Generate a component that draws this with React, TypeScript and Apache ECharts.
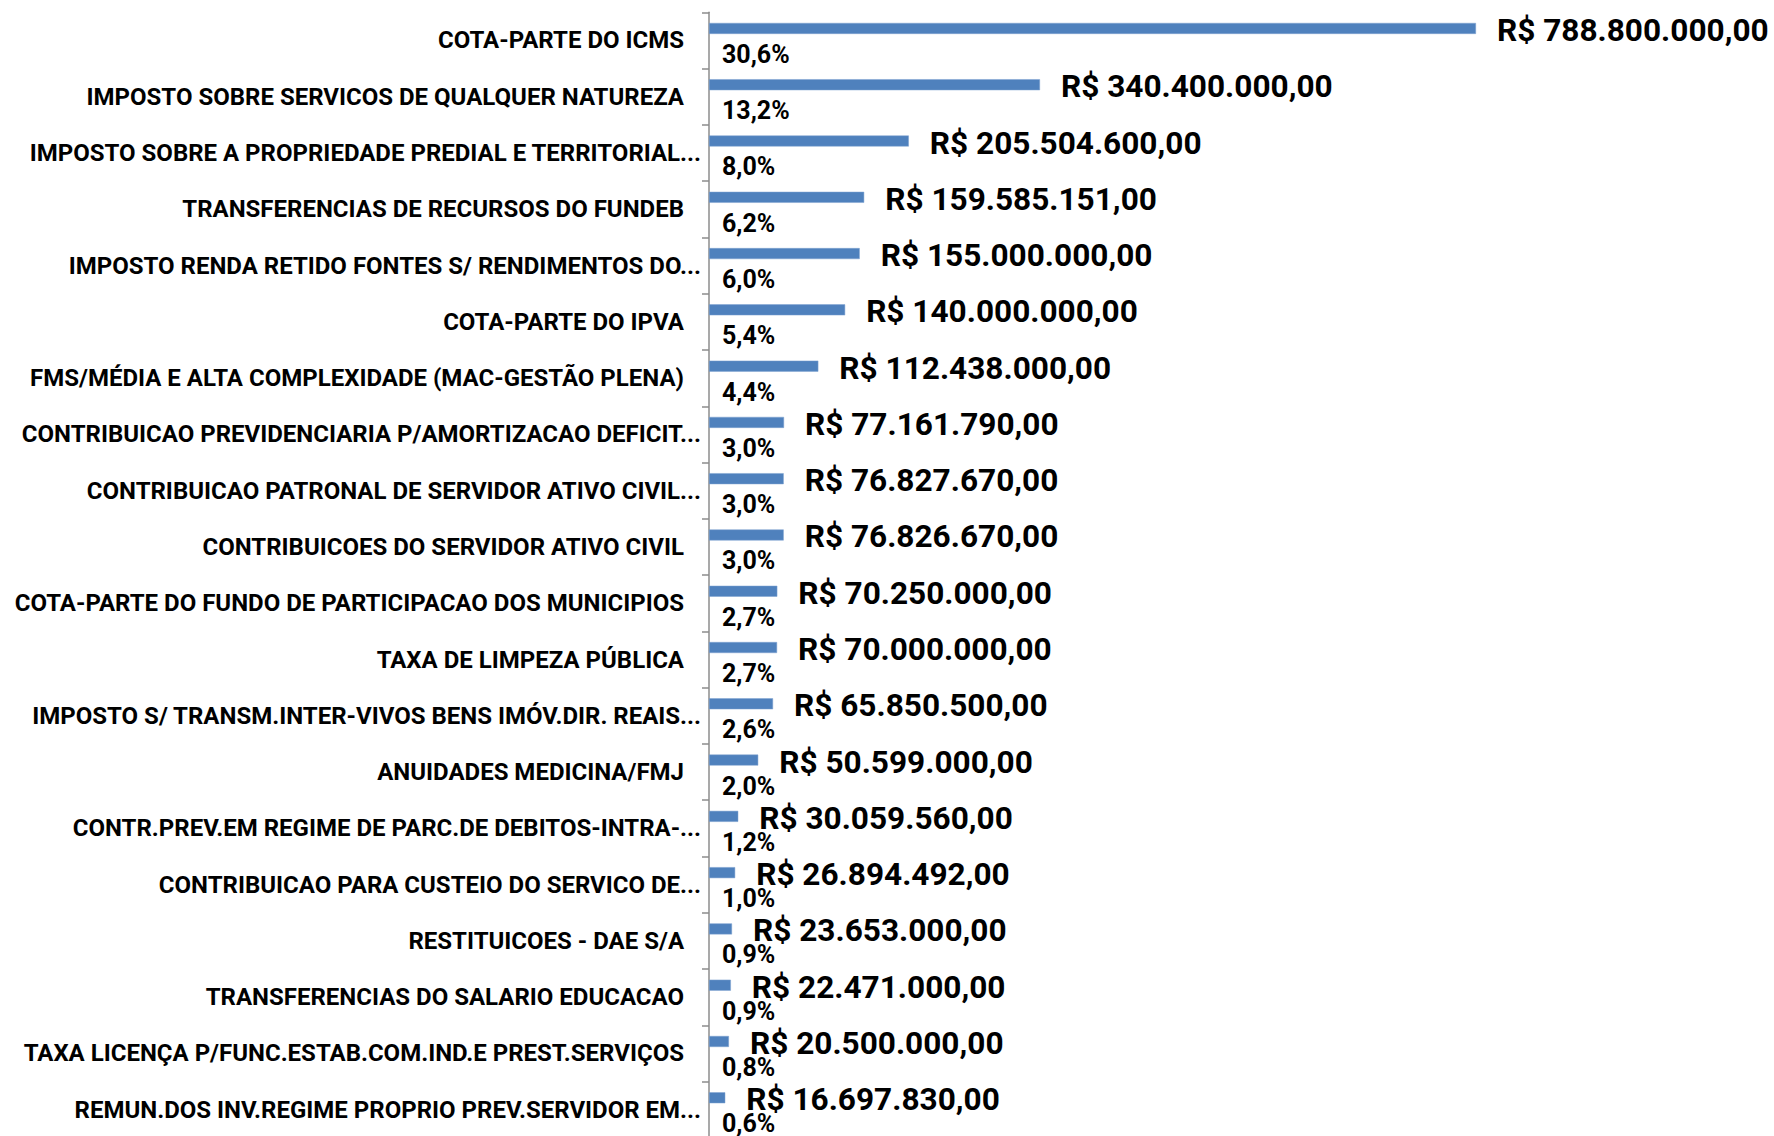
import React, { useEffect, useRef } from "react";
import * as echarts from "echarts";

const categories: string[] = [
  "COTA-PARTE DO ICMS",
  "IMPOSTO SOBRE SERVICOS DE QUALQUER NATUREZA",
  "IMPOSTO SOBRE A PROPRIEDADE PREDIAL E TERRITORIAL...",
  "TRANSFERENCIAS DE RECURSOS DO FUNDEB",
  "IMPOSTO RENDA RETIDO FONTES S/ RENDIMENTOS DO...",
  "COTA-PARTE DO IPVA",
  "FMS/MÉDIA E ALTA COMPLEXIDADE (MAC-GESTÃO PLENA)",
  "CONTRIBUICAO PREVIDENCIARIA P/AMORTIZACAO DEFICIT...",
  "CONTRIBUICAO PATRONAL DE SERVIDOR ATIVO CIVIL...",
  "CONTRIBUICOES DO SERVIDOR ATIVO CIVIL",
  "COTA-PARTE DO FUNDO DE PARTICIPACAO DOS MUNICIPIOS",
  "TAXA DE LIMPEZA PÚBLICA",
  "IMPOSTO S/ TRANSM.INTER-VIVOS BENS IMÓV.DIR. REAIS...",
  "ANUIDADES MEDICINA/FMJ",
  "CONTR.PREV.EM REGIME DE PARC.DE DEBITOS-INTRA-...",
  "CONTRIBUICAO PARA CUSTEIO DO SERVICO DE...",
  "RESTITUICOES - DAE S/A",
  "TRANSFERENCIAS DO SALARIO EDUCACAO",
  "TAXA LICENÇA P/FUNC.ESTAB.COM.IND.E PREST.SERVIÇOS",
  "REMUN.DOS INV.REGIME PROPRIO PREV.SERVIDOR EM...",
];

const values: number[] = [
  788800000, 340400000, 205504600, 159585151, 155000000, 140000000, 112438000,
  77161790, 76827670, 76826670, 70250000, 70000000, 65850500, 50599000,
  30059560, 26894492, 23653000, 22471000, 20500000, 16697830,
];

const shares: number[] = [
  30.6, 13.2, 8.0, 6.2, 6.0, 5.4, 4.4, 3.0, 3.0, 3.0, 2.7, 2.7, 2.6, 2.0, 1.2,
  1.0, 0.9, 0.9, 0.8, 0.6,
];

const FONT = "Roboto, 'Liberation Sans', sans-serif";

function brl(v: number): string {
  const s = Math.round(v).toString();
  const withDots = s.replace(/\B(?=(\d{3})+(?!\d))/g, ".");
  return "R$ " + withDots + ",00";
}

const catText = {
  color: "#000000",
  fontFamily: FONT,
  fontWeight: "bold" as const,
  fontSize: 24,
};

export default function App() {
  const ref = useRef<HTMLDivElement>(null);

  useEffect(() => {
    if (!ref.current) return;
    const chart = echarts.init(ref.current, undefined, { renderer: "svg" });
    chart.setOption({
      animation: false,
      backgroundColor: "#ffffff",
      grid: {
        left: 709,
        top: 12.3,
        width: 875.1,
        height: 1125.6,
        containLabel: false,
        outerBoundsMode: "none",
      },
      xAxis: {
        type: "value",
        min: 0,
        max: 900000000,
        show: false,
        splitLine: { show: false },
      },
      yAxis: {
        type: "category",
        data: categories,
        inverse: true,
        axisLine: { show: true, lineStyle: { color: "#8c8c8c", width: 1.5 } },
        axisTick: {
          show: true,
          length: 7,
          inside: false,
          lineStyle: { color: "#8c8c8c", width: 1.5 },
        },
        axisLabel: {
          margin: 8,
          ...catText,
          formatter: (val: string) =>
            val.endsWith("...") ? `{t|${val}}` : `{p|${val}}`,
          rich: {
            t: { ...catText },
            p: { ...catText, padding: [0, 17, 0, 0] },
          },
        },
      },
      series: [
        {
          type: "bar",
          data: values,
          barWidth: 11,
          barGap: "118%",
          itemStyle: { color: "#4f81bd", borderColor: "#7fa3d1", borderWidth: 0.5 },
          label: {
            show: true,
            position: "right",
            distance: 21,
            offset: [0, 2],
            color: "#000000",
            fontFamily: FONT,
            fontWeight: "bold",
            fontSize: 31.6,
            formatter: (p: any) => brl(p.value),
          },
        },
        {
          type: "bar",
          data: shares,
          barWidth: 11,
          itemStyle: { color: "#4f81bd" },
          label: {
            show: true,
            position: "right",
            distance: 13,
            offset: [0, 2],
            color: "#000000",
            fontFamily: FONT,
            fontWeight: "bold",
            fontSize: 25,
            formatter: (p: any) => p.value.toFixed(1).replace(".", ",") + "%",
          },
        },
      ],
    });
    return () => chart.dispose();
  }, []);

  return (
    <div
      ref={ref}
      style={{
        position: "fixed",
        left: 0,
        top: 0,
        width: 1774,
        height: 1136,
        background: "#ffffff",
      }}
    />
  );
}
